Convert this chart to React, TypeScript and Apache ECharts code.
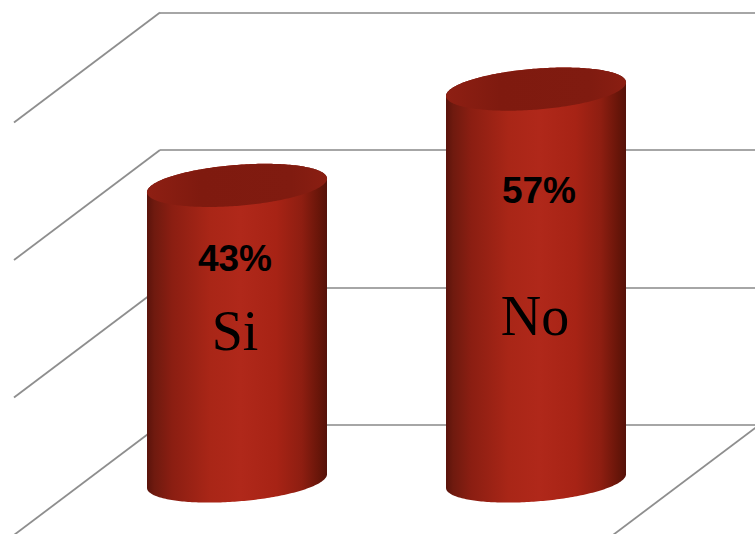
import React, { useEffect, useRef } from "react";
import * as echarts from "echarts";

const categories = ["Si", "No"];
const percentages = [43, 57];
const axisTicks = [0, 20, 40, 60];

const WIDTH = 755;
const HEIGHT = 534;
const GRID_LEFT = 160;
const GRID_WIDTH = 598;
const GRID_TOP = 12.5;
const GRID_BOTTOM = 109;
const WALL_DX = -146;
const WALL_DY = 110;
const BAR_DX = -72.5;
const BAR_DY = 56;
const RX = 90;
const TILT = 6.8;
const RY = 20.5;

function ellipsePoint(cx: number, cy: number, t: number): number[] {
  return [cx + RX * Math.cos(t), cy - TILT * Math.cos(t) - RY * Math.sin(t)];
}

function renderWall(params: any, api: any) {
  const sys = params.coordSys;
  const y = api.coord([0, api.value(1)])[1];
  const stroke = "#8e8e8e";
  const children: any[] = [
    {
      type: "line",
      shape: { x1: sys.x, y1: y, x2: sys.x + WALL_DX, y2: y + WALL_DY },
      style: { stroke, lineWidth: 1.8 },
    },
  ];
  if (api.value(1) === 0) {
    const right = WIDTH + 4;
    children.push({
      type: "line",
      shape: { x1: right, y1: y, x2: right + WALL_DX, y2: y + WALL_DY },
      style: { stroke, lineWidth: 1.8 },
    });
  }
  return { type: "group", children };
}

function renderCylinder(_params: any, api: any) {
  const top = api.coord([api.value(0), api.value(1)]);
  const base = api.coord([api.value(0), 0]);
  const cx = top[0] + BAR_DX;
  const topY = top[1] + BAR_DY;
  const baseY = base[1] + BAR_DY;
  const body: number[][] = [];
  const rim: number[][] = [];
  const N = 120;
  // body outline: top half of top ellipse, lower half of the base ellipse
  for (let i = 0; i <= N; i++) body.push(ellipsePoint(cx, topY, (Math.PI * i) / N));
  for (let i = 0; i <= N; i++) body.push(ellipsePoint(cx, baseY, Math.PI + (Math.PI * i) / N));
  for (let i = 0; i < 2 * N; i++) rim.push(ellipsePoint(cx, topY, (Math.PI * i) / N));
  const sideFill = new echarts.graphic.LinearGradient(0, 0, 1, 0, [
    { offset: 0, color: "#5a130b" },
    { offset: 0.04, color: "#6f1a0f" },
    { offset: 0.14, color: "#8b1e12" },
    { offset: 0.35, color: "#a92617" },
    { offset: 0.52, color: "#b0281a" },
    { offset: 0.72, color: "#a72315" },
    { offset: 0.86, color: "#8e1e11" },
    { offset: 0.96, color: "#661509" },
    { offset: 1, color: "#55120a" },
  ]);
  const topFill = new echarts.graphic.LinearGradient(0, 0, 1, 0, [
    { offset: 0, color: "#8e1f13" },
    { offset: 0.3, color: "#7f1a0f" },
    { offset: 0.8, color: "#801b10" },
    { offset: 1, color: "#8a1e12" },
  ]);
  return {
    type: "group",
    children: [
      { type: "polygon", shape: { points: body }, style: { fill: sideFill } },
      { type: "polygon", shape: { points: rim }, style: { fill: topFill } },
    ],
  };
}

export default function App() {
  const ref = useRef<HTMLDivElement>(null);
  useEffect(() => {
    document.body.style.margin = "0";
    const chart = echarts.init(ref.current!, undefined, { renderer: "svg" });
    const pctStyle = {
      fontFamily: "Liberation Sans",
      fontWeight: "bold" as const,
      fontSize: 37,
      fill: "#000",
      textAlign: "center" as const,
      textVerticalAlign: "middle" as const,
    };
    const nameStyle = {
      fontFamily: "Liberation Serif",
      fontSize: 56,
      fill: "#000",
      textAlign: "center" as const,
      textVerticalAlign: "middle" as const,
    };
    chart.setOption({
      animation: false,
      backgroundColor: "#fff",
      grid: {
        left: GRID_LEFT,
        width: GRID_WIDTH,
        top: GRID_TOP,
        bottom: GRID_BOTTOM,
        containLabel: false,
        outerBoundsMode: "none",
      },
      xAxis: {
        type: "category",
        data: categories,
        axisLine: { show: false },
        axisTick: { show: false },
        axisLabel: { show: false },
      },
      yAxis: {
        type: "value",
        min: 0,
        max: 60,
        interval: 20,
        axisLine: { show: false },
        axisTick: { show: false },
        axisLabel: { show: false },
        splitLine: { show: true, lineStyle: { color: "#a6a6a6", width: 2 } },
      },
      series: [
        {
          type: "custom",
          name: "wall",
          clip: false,
          silent: true,
          z: 1,
          renderItem: renderWall,
          encode: { x: 0, y: 1 },
          data: axisTicks.map((t) => [0, t]),
        },
        {
          type: "custom",
          name: "cylinders",
          clip: false,
          silent: true,
          z: 2,
          renderItem: renderCylinder,
          encode: { x: 0, y: 1 },
          data: percentages.map((v, i) => [i, v]),
        },
      ],
      graphic: [
        { type: "text", z: 100, x: 235, y: 258, style: { ...pctStyle, text: `${percentages[0]}%` } },
        { type: "text", z: 100, x: 539, y: 190, style: { ...pctStyle, text: `${percentages[1]}%` } },
        { type: "text", z: 100, x: 235, y: 331, style: { ...nameStyle, text: categories[0] } },
        { type: "text", z: 100, x: 535, y: 316, style: { ...nameStyle, text: categories[1] } },
      ],
    });
    return () => chart.dispose();
  }, []);
  return <div ref={ref} style={{ width: WIDTH, height: HEIGHT }} />;
}
